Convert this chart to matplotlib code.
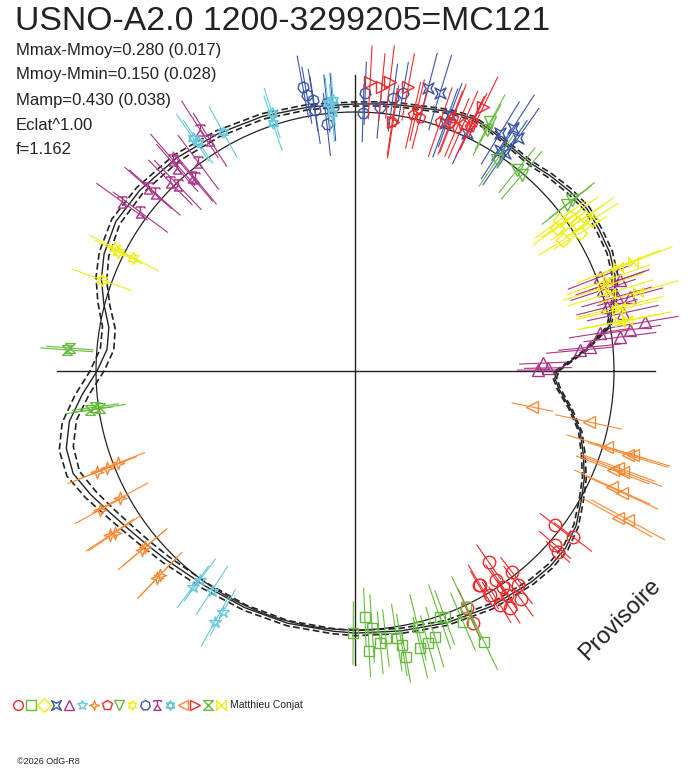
import numpy as np
import matplotlib.pyplot as plt
from matplotlib.path import Path

plt.rcParams['font.family'] = ['Liberation Sans', 'DejaVu Sans']

W, H = 688, 768
CX, CY, R0 = 355, 371, 259   # centre du graphe et rayon du cercle unite (pixels)

title = 'USNO-A2.0 1200-3299205=MC121'
stats = ['Mmax-Mmoy=0.280 (0.017)', 'Mmoy-Mmin=0.150 (0.028)',
         'Mamp=0.430 (0.038)', 'Eclat^1.00', 'f=1.162']
author = 'Matthieu Conjat'
copyright_txt = '\u00a92026 OdG-R8'

# courbe modele (angle en degres, rayon relatif) et incertitude
model_phase = [0, 5, 10, 15, 20, 25, 30, 35, 40, 45, 50, 55, 60, 65, 70, 75, 80, 85, 90,
               100, 110, 120, 130, 140, 148, 155, 160, 165, 170, 175, 180, 185, 190, 195,
               200, 205, 210, 215, 220, 225, 235, 245, 255, 265, 270, 280, 290, 300, 310,
               315, 320, 325, 330, 335, 340, 345, 350, 355, 358, 360]
model_r = [0.780, 0.890, 0.996, 1.035, 1.069, 1.085, 1.089, 1.093, 1.081, 1.066, 1.050,
           1.054, 1.066, 1.077, 1.066, 1.050, 1.042, 1.035, 1.031, 1.035, 1.046, 1.058,
           1.073, 1.085, 1.089, 1.069, 1.042, 1.004, 0.965, 0.961, 0.996, 1.058, 1.120,
           1.154, 1.158, 1.127, 1.093, 1.066, 1.046, 1.031, 1.012, 1.008, 1.008, 1.008,
           1.012, 1.019, 1.035, 1.050, 1.062, 1.066, 1.062, 1.042, 1.008, 0.977, 0.938,
           0.900, 0.845, 0.790, 0.772, 0.780]
model_sig = [0.007, 0.007, 0.008, 0.010, 0.011, 0.011, 0.011, 0.011, 0.011, 0.010, 0.009,
             0.008, 0.008, 0.008, 0.008, 0.008, 0.008, 0.008, 0.008, 0.010, 0.011, 0.013,
             0.015, 0.016, 0.018, 0.020, 0.022, 0.024, 0.025, 0.026, 0.027, 0.028, 0.028,
             0.028, 0.026, 0.024, 0.021, 0.019, 0.017, 0.016, 0.013, 0.011, 0.010, 0.010,
             0.010, 0.010, 0.010, 0.011, 0.011, 0.011, 0.011, 0.010, 0.009, 0.008, 0.008,
             0.007, 0.007, 0.007, 0.007, 0.007]

# sessions : angle (deg), rayon relatif, erreur
s01_ph = [322.4, 322.7, 319.0, 318.3, 305.0, 308.0, 300.0, 304.4, 307.3, 304.2, 301.8, 303.2,
          301.1, 295.3, 295.1, 300.3, 304.0, 306.0]
s01_r = [0.973, 1.058, 1.023, 1.050, 0.900, 0.985, 0.954, 1.012, 1.039, 1.046, 1.062, 1.093,
         1.012, 1.012, 1.073, 0.958, 0.973, 1.089]
s01_e = [0.07, 0.09, 0.08, 0.06, 0.08, 0.07, 0.06, 0.08, 0.09, 0.07, 0.08, 0.07, 0.06, 0.08,
         0.07, 0.09, 0.07, 0.08]

s02_ph = [269.6, 272.3, 273.8, 272.9, 275.3, 276.6, 278.9, 279.7, 280.1, 283.8, 283.3, 285.0,
          286.7, 289.0, 290.0, 293.3, 295.2, 295.5]
s02_r = [1.012, 0.950, 0.996, 1.081, 1.054, 1.039, 1.042, 1.073, 1.120, 1.019, 1.097, 1.089,
         1.073, 1.004, 1.012, 1.054, 1.008, 1.158]
s02_e = [0.12, 0.11, 0.13, 0.10, 0.12, 0.11, 0.13, 0.12, 0.10, 0.13, 0.12, 0.11, 0.12, 0.13,
         0.11, 0.12, 0.13, 0.12]

s03_ph = [36.4, 35.6, 32.2, 33.7, 33.8, 32.5, 35.3, 31.5]
s03_r = [0.985, 1.019, 0.950, 1.031, 1.069, 1.085, 0.954, 1.019]
s03_e = [0.12, 0.13, 0.11, 0.12, 0.13, 0.12, 0.11, 0.12]

s04_ph = [75.5, 73.0, 69.6, 58.6, 57.0, 55.0, 56.7, 55.5, 70.0, 64.8]
s04_r = [1.127, 1.124, 1.054, 1.077, 1.120, 1.097, 1.019, 1.023, 1.019, 1.015]
s04_e = [0.14, 0.15, 0.13, 0.14, 0.15, 0.14, 0.13, 0.15, 0.14, 0.13]

s05_ph = [21.0, 19.0, 19.0, 18.1, 15.8, 14.2, 15.1, 12.2, 8.5, 9.6, 7.3, 8.8, 5.3, 5.8, 2.4,
          0.3, 0.9]
s05_r = [1.012, 1.042, 1.081, 1.008, 1.050, 1.004, 1.100, 1.058, 1.073, 1.135, 1.031, 0.958,
         0.873, 0.911, 0.726, 0.707, 0.745]
s05_e = [0.13, 0.14, 0.12, 0.13, 0.14, 0.12, 0.13, 0.14, 0.12, 0.13, 0.14, 0.12, 0.13, 0.12,
         0.09, 0.08, 0.09]

s06_ph = [233.1, 236.9, 241.3, 240.8, 233.4]
s06_r = [1.042, 1.012, 1.062, 1.108, 1.004]
s06_e = [0.10, 0.11, 0.10, 0.11, 0.10]

s07_ph = [201.4, 201.2, 201.4, 208.6, 208.4, 213.8, 214.0, 220.0, 220.0, 226.3, 226.3]
s07_r = [1.027, 0.981, 1.069, 1.120, 1.031, 1.139, 1.120, 1.058, 1.073, 1.104, 1.089]
s07_e = [0.12, 0.11, 0.12, 0.11, 0.12, 0.11, 0.12, 0.11, 0.12, 0.11, 0.12]

s08_ph = [77.2, 75.6, 71.1, 69.0, 67.3, 66.3, 64.8, 64.6, 68.8, 81.5, 76.6]
s08_r = [1.012, 1.008, 1.015, 1.027, 1.019, 1.039, 1.042, 1.066, 1.046, 0.973, 1.035]
s08_e = [0.13, 0.12, 0.14, 0.13, 0.12, 0.14, 0.13, 0.12, 0.14, 0.13, 0.12]

s09_ph = [61.5, 61.3, 56.1, 51.1, 49.6, 38.2, 38.1]
s09_r = [1.093, 1.062, 0.981, 0.996, 0.992, 1.066, 1.039]
s09_e = [0.12, 0.11, 0.12, 0.11, 0.12, 0.11, 0.12]

s10_ph = [152.9, 153.3, 153.0, 160.2]
s10_r = [1.042, 1.023, 0.961, 1.039]
s10_e = [0.11, 0.10, 0.11, 0.12]

s11_ph = [100.4, 99.9, 98.8, 98.7, 96.0, 96.5, 94.8, 87.9, 88.2, 84.6, 82.1, 80.2]
s11_r = [1.116, 1.081, 1.058, 1.019, 1.039, 0.958, 1.023, 1.073, 0.996, 1.023, 1.066, 1.089]
s11_e = [0.12, 0.11, 0.12, 0.13, 0.11, 0.12, 0.13, 0.12, 0.11, 0.12, 0.13, 0.12]

s12_ph = [122.7, 122.1, 130.8, 131.2, 126.9, 130.0, 129.7, 134.4, 133.6, 138.5, 138.3, 144.0,
          143.5]
s12_r = [1.108, 1.054, 1.077, 1.042, 1.008, 0.977, 0.969, 1.019, 0.992, 1.066, 1.035, 1.112,
         1.031]
s12_e = [0.13, 0.12, 0.13, 0.12, 0.13, 0.12, 0.13, 0.12, 0.13, 0.12, 0.13, 0.12, 0.13]

s13_ph = [124.8, 124.4, 118.9, 107.8, 108.3, 95.8, 95.1, 94.6]
s13_r = [1.097, 1.073, 1.054, 1.046, 1.008, 1.039, 1.000, 1.050]
s13_e = [0.11, 0.10, 0.11, 0.10, 0.11, 0.10, 0.11, 0.10]

s14_ph = [348.5, 347.7, 343.2, 343.2, 342.9, 339.0, 339.4, 339.8, 335.7, 335.5, 331.4, 330.8]
s14_r = [0.699, 0.923, 1.015, 1.120, 1.104, 1.066, 1.104, 1.081, 1.089, 1.135, 1.201, 1.162]
s14_e = [0.08, 0.13, 0.16, 0.15, 0.16, 0.15, 0.16, 0.15, 0.16, 0.15, 0.16, 0.15]

s15_ph = [87.0, 84.6, 83.1, 79.4, 81.3, 64.1]
s15_r = [1.116, 1.100, 1.124, 1.116, 0.973, 1.131]
s15_e = [0.14, 0.13, 0.14, 0.13, 0.14, 0.13]

s16_ph = [175.4, 175.8, 187.9, 188.3, 188.4]
s16_r = [1.104, 1.116, 1.012, 0.996, 1.035]
s16_e = [0.09, 0.10, 0.09, 0.10, 0.09]

s17_ph = [21.6, 21.4, 19.8, 18.7, 17.0, 15.6, 13.6, 13.1, 10.6, 10.5]
s17_r = [1.093, 1.154, 1.039, 1.012, 1.031, 1.135, 1.054, 1.039, 1.069, 1.039]
s17_e = [0.17, 0.16, 0.17, 0.16, 0.17, 0.16, 0.17, 0.16, 0.17, 0.16]

# marqueurs speciaux
def poly(pts, closed=True):
    v = list(pts)
    codes = [Path.MOVETO] + [Path.LINETO] * (len(v) - 1)
    if closed:
        v.append(v[0])
        codes.append(Path.CLOSEPOLY)
    return v, codes

def multi(*parts):
    verts, codes = [], []
    for v, c in parts:
        verts += v
        codes += c
    return Path(verts, codes)

concave = multi(poly([(-1, -1), (0, -0.45), (1, -1), (0.45, 0), (1, 1), (0, 0.45), (-1, 1), (-0.45, 0)]))
sparkle = multi(poly([(0, 1), (0.25, 0.25), (1, 0), (0.25, -0.25), (0, -1), (-0.25, -0.25), (-1, 0), (-0.25, 0.25)]))
mushroom = multi(poly([(-0.75, -1), (0.75, -1), (0, 0.1)]),
                 poly([(0, 0.1), (0, 1)], closed=False),
                 poly([(-0.8, 1), (0.8, 1)], closed=False),
                 poly([(-0.8, 0.7), (-0.8, 1)], closed=False),
                 poly([(0.8, 0.7), (0.8, 1)], closed=False))
hexa = multi(poly([(-0.87, 0.5), (0.87, 0.5), (0, -1)]),
             poly([(-0.87, -0.5), (0.87, -0.5), (0, 1)]))
hourglass = multi(poly([(-1, 1), (1, 1), (-1, -1), (1, -1)]))
bowtie = multi(poly([(-1, 1), (-1, -1), (1, 1), (1, -1)]))

palette = ['#ee2a2a', '#66bb3f', '#eeee10', '#3a55aa', '#aa3388', '#66c8dc', '#ff8833']
markers = ['o', 's', 'D', concave, '^', '*', sparkle, 'p', 'v', (6, 1, 0), (7, 0, 0),
           mushroom, hexa, '<', '>', hourglass, bowtie]
msizes = [9, 7, 7, 8, 8, 9, 9, 8, 8, 9, 8, 8, 8, 8, 8, 7, 7]

sessions = [(s01_ph, s01_r, s01_e), (s02_ph, s02_r, s02_e), (s03_ph, s03_r, s03_e),
            (s04_ph, s04_r, s04_e), (s05_ph, s05_r, s05_e), (s06_ph, s06_r, s06_e),
            (s07_ph, s07_r, s07_e), (s08_ph, s08_r, s08_e), (s09_ph, s09_r, s09_e),
            (s10_ph, s10_r, s10_e), (s11_ph, s11_r, s11_e), (s12_ph, s12_r, s12_e),
            (s13_ph, s13_r, s13_e), (s14_ph, s14_r, s14_e), (s15_ph, s15_r, s15_e),
            (s16_ph, s16_r, s16_e), (s17_ph, s17_r, s17_e)]

fig = plt.figure(figsize=(W / 100, H / 100), dpi=100)
ax = fig.add_axes([0, 0, 1, 1])
ax.set_xlim(-CX / R0, (W - CX) / R0)
ax.set_ylim(-(H - CY) / R0, CY / R0)
ax.axis('off')

# axes
ax.plot([-298 / R0, 300 / R0], [0, 0], color='#222222', lw=1)
ax.plot([0, 0], [-294 / R0, 296 / R0], color='#222222', lw=1)

# cercle de reference
t = np.linspace(0, 2 * np.pi, 400)
ax.plot(np.cos(t), np.sin(t), color='#222222', lw=0.9)

# modele et enveloppe
mp = np.radians(model_phase)
mr = np.array(model_r)
ms = np.array(model_sig)
ax.plot(mr * np.cos(mp), mr * np.sin(mp), color='#222222', lw=1.0)
for sgn in (-1, 1):
    rr = mr + sgn * ms
    ax.plot(rr * np.cos(mp), rr * np.sin(mp), color='#222222', lw=1.2, dashes=(4, 2))

# points de mesure avec barres d'erreur radiales
for i, (ph, r, e) in enumerate(sessions):
    col = palette[i % len(palette)]
    a = np.radians(ph)
    r = np.array(r)
    e = np.array(e)
    for ai, ri, ei in zip(a, r, e):
        ax.plot([(ri - ei) * np.cos(ai), (ri + ei) * np.cos(ai)],
                [(ri - ei) * np.sin(ai), (ri + ei) * np.sin(ai)], color=col, lw=0.8)
    ax.plot(r * np.cos(a), r * np.sin(a), ls='none', marker=markers[i], ms=msizes[i],
            mfc='none', mec=col, mew=1.0)

# textes
fig.text(15 / W, 1 - 21 / H, title, fontsize=24.3, color='#222222', va='center')
for k, s in enumerate(stats):
    fig.text(16 / W, 1 - (50 + 25 * k) / H, s, fontsize=12, color='#222222', va='center')
fig.text(620 / W, 1 - 620 / H, 'Provisoire', fontsize=17, color='#222222', rotation=45,
         ha='center', va='center')
fig.text(230 / W, 1 - 705 / H, author, fontsize=7.5, color='#222222', va='center')
fig.text(17 / W, 1 - 762 / H, copyright_txt, fontsize=6.5, color='#222222', va='center')

# rangee de symboles
lax = fig.add_axes([12 / W, 1 - 715 / H, 215 / W, 20 / H])
lax.set_xlim(-0.5, 16.5)
lax.set_ylim(-1, 1)
lax.axis('off')
for i in range(len(sessions)):
    lax.plot([i], [0], ls='none', marker=markers[i], ms=7, mfc='none',
             mec=palette[i % len(palette)], mew=1.0)

fig.savefig('out.png', dpi=100)
